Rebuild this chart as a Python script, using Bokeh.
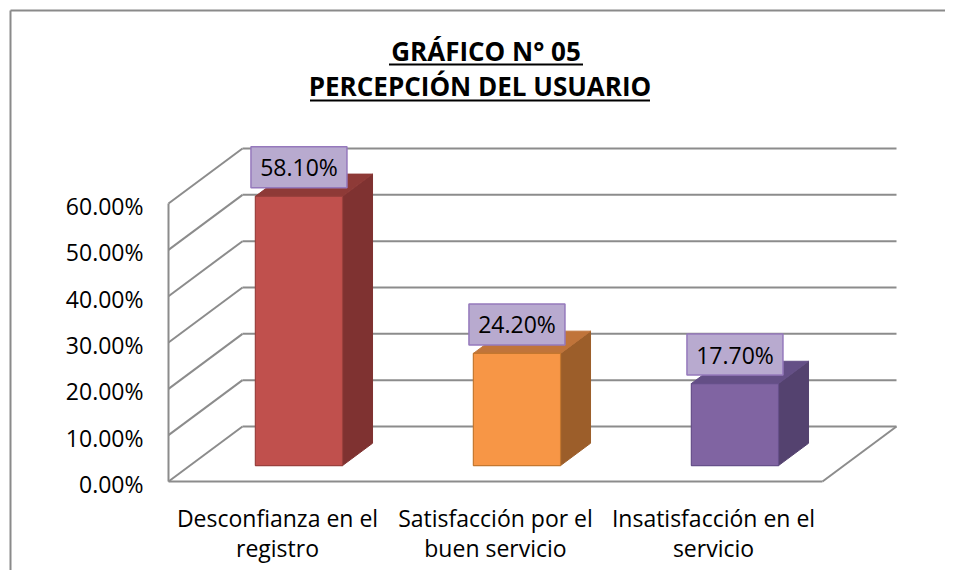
from bokeh.plotting import figure
from bokeh.models import Range1d
from bokeh.core.properties import value
from bokeh.embed import file_html
from bokeh.resources import INLINE

# ---------------- data ----------------
categories = ["Desconfianza en el\nregistro",
              "Satisfacción por el\nbuen servicio",
              "Insatisfacción en el\nservicio"]
values = [0.581, 0.242, 0.177]
value_labels = ["58.10%", "24.20%", "17.70%"]
y_ticks = [0.0, 0.1, 0.2, 0.3, 0.4, 0.5, 0.6]
y_tick_labels = ["0.00%", "10.00%", "20.00%", "30.00%", "40.00%", "50.00%", "60.00%"]
title_lines = ["GRÁFICO N° 05", "PERCEPCIÓN DEL USUARIO"]

front_colors = ["#C0504D", "#F79646", "#8064A2"]
side_colors = ["#7F3231", "#9C5E2A", "#54426F"]
top_colors = ["#8E3A37", "#C0743A", "#644F86"]
edge_colors = ["#9A403D", "#C4772F", "#66508A"]

# ---------------- layout constants ----------------
W, H = 945, 570
PXU = 218.0            # px per category slot
PYU = 463.3            # px per 1.0 (=100%)
OX, OY = 168.0, 481.0  # canvas px of the front-left floor corner
x_start, x_end = -OX / PXU, (W - OX) / PXU
y_start, y_end = -(H - OY) / PYU, OY / PYU
DX, DY = 74.0 / PXU, 55.0 / PYU   # full depth of the walls
D0, D1 = 0.29, 0.695              # bar depth (fraction of wall depth)
BW = 0.4                          # bar width (category units)
n = len(categories)
top_val = y_ticks[-1]

FONT = value("Open Sans")
GRID = "#8C8C8C"

p = figure(width=W, height=H, output_backend="svg", toolbar_location=None,
           x_range=Range1d(x_start, x_end), y_range=Range1d(y_start, y_end),
           x_axis_type=None, y_axis_type=None, min_border=0,
           background_fill_color="white", border_fill_color="white")
p.outline_line_color = None
p.grid.visible = False

# chart border (left / top)
bx = x_start + 10.0 / PXU
by = y_end - 10.0 / PYU
p.segment(x0=[bx, bx], y0=[y_start, by], x1=[bx, x_end], y1=[by, by],
          line_color="#8A8A8A", line_width=2)

# walls / gridlines
sx0, sy0, sx1, sy1 = [], [], [], []
for t in y_ticks:
    sx0 += [0, DX]; sy0 += [t, t + DY]
    sx1 += [DX, n + DX]; sy1 += [t + DY, t + DY]
# front-left vertical edge, floor front, floor right diagonal
sx0 += [0, 0, n]; sy0 += [0, 0, 0]
sx1 += [0, n, n + DX]; sy1 += [top_val, 0, DY]
p.segment(x0=sx0, y0=sy0, x1=sx1, y1=sy1, line_color=GRID, line_width=2)

# bars
lefts, rights, bottoms, tops = [], [], [], []
side_xs, side_ys, top_xs, top_ys = [], [], [], []
for i, v in enumerate(values):
    xa = i + (1 - BW) / 2
    xb = xa + BW
    l, r = xa + D0 * DX, xb + D0 * DX
    b, t = D0 * DY, v + D0 * DY
    rb, bb, tb = xb + D1 * DX, D1 * DY, v + D1 * DY
    lb = xa + D1 * DX
    lefts.append(l); rights.append(r); bottoms.append(b); tops.append(t)
    side_xs.append([r, rb, rb, r]); side_ys.append([b, bb, tb, t])
    top_xs.append([l, r, rb, lb]); top_ys.append([t, t, tb, tb])

p.patches(xs=side_xs, ys=side_ys, fill_color=side_colors,
          line_color=side_colors, line_width=1)
p.patches(xs=top_xs, ys=top_ys, fill_color=top_colors,
          line_color=top_colors, line_width=1)
p.quad(left=lefts, right=rights, bottom=bottoms, top=tops,
       fill_color=front_colors, line_color=edge_colors, line_width=1.2)

# value labels (boxed)
cx = [(l + r) / 2 for l, r in zip(lefts, rights)]
ly = [t + 29.0 / PYU for t in tops]
p.rect(x=cx, y=ly, width=96, height=41, width_units="screen",
       height_units="screen", fill_color="#B8AACF",
       line_color="#9579BC", line_width=1.5)
p.text(x=cx, y=ly, text=value_labels, text_font=FONT, text_font_size="23px",
       text_color="black", text_align="center", text_baseline="middle")

# y tick labels
p.text(x=[0] * len(y_ticks), y=y_ticks, text=y_tick_labels, text_font=FONT,
       text_font_size="23px", text_color="black", text_align="right",
       text_baseline="middle", x_offset=-25, y_offset=2.5)

# category labels
line1 = [c.split("\n")[0] for c in categories]
line2 = [c.split("\n")[1] for c in categories]
cat_x = [i + 0.5 for i in range(n)]
p.text(x=cat_x, y=[0] * n, text=line1, text_font=FONT, text_font_size="23px",
       text_color="black", text_align="center", text_baseline="middle",
       y_offset=36)
p.text(x=cat_x, y=[0] * n, text=line2, text_font=FONT, text_font_size="23px",
       text_color="black", text_align="center", text_baseline="middle",
       y_offset=66)

# title (underlined)
tcx = (x_start + x_end) / 2
t_off = [13.0, 7.0]
p.text(x=[tcx, tcx], y=[y_end, y_end], text=title_lines, text_font=FONT,
       text_font_size="26px", text_font_style="bold", text_color="black",
       text_align="center", text_baseline="middle",
       x_offset=t_off, y_offset=[50.5, 85])
half_w = [97.0 / PXU, 170.0 / PXU]
ul_y = [y_end - 64.0 / PYU, y_end - 100.0 / PYU]
ucx = [tcx + o / PXU for o in t_off]
p.segment(x0=[c - h for c, h in zip(ucx, half_w)], y0=ul_y,
          x1=[c + h for c, h in zip(ucx, half_w)], y1=ul_y,
          line_color="black", line_width=2)

open("out.html", "w").write(file_html(p, INLINE))
